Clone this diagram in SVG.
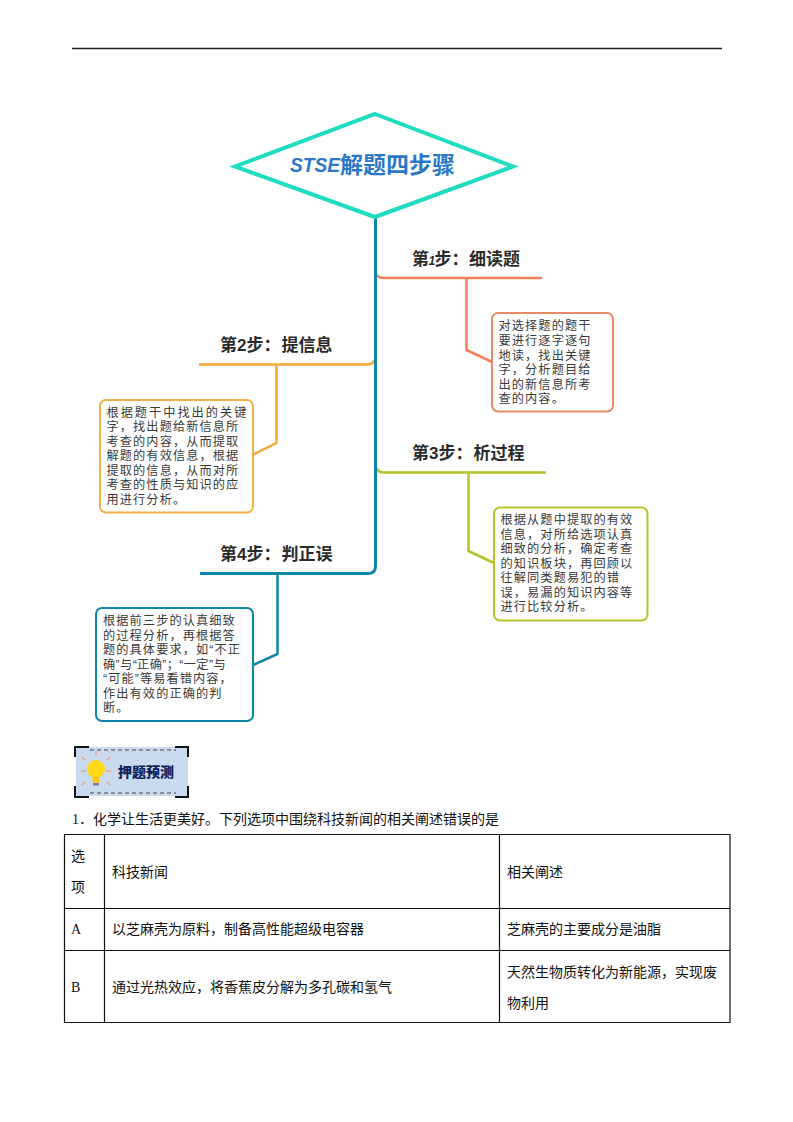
<svg xmlns="http://www.w3.org/2000/svg" width="793" height="1122" viewBox="0 0 793 1122">
<style>
text{font-family:"Liberation Sans","Noto Sans CJK SC",sans-serif}
.h{font-size:17px;font-weight:700;fill:#2b2b2b}
.b{font-size:12.200px;letter-spacing:1.100px;fill:#3a3a3a}
.t{font-family:"Liberation Serif","Noto Sans CJK SC",serif;font-size:14px;fill:#111}
.c{fill:none;stroke-width:2.500;stroke-linejoin:round}
.m{stroke-width:3}
.box{fill:#fff;stroke-width:2}
.grid{fill:none;stroke:#111;stroke-width:1.200}
</style>
<rect width="793" height="1122" fill="#fff"/>
<line x1="72" y1="48.500" x2="722" y2="48.500" stroke="#222" stroke-width="1.400"/>
<g id="connectors">
<path class="c" stroke="#f0805a" d="M376.500 274Q378 278 384 278H542M466.500 278V350L492 362"/>
<path class="c" stroke="#f5a936" d="M374.500 360Q373 364.500 367 364.500H199M276.500 365V443L252 455"/>
<path class="c" stroke="#b5c42a" d="M376.500 468Q378 472.500 384 472.500H546M468.500 473V551L494 563"/>
<path class="c m" stroke="#0e86a8" d="M375.500 217V566Q375.500 573.500 368 573.500H200"/>
<path class="c" stroke="#0e86a8" d="M277.500 574V654L253 665"/>
</g>
<g id="root">
<polygon points="375,114 513,166.500 375,217 235,166.500" fill="#fff" stroke="#1fdcc0" stroke-width="4"/>
<text x="290" y="172" font-size="21" font-weight="700" font-style="italic" fill="#2b78c8" textLength="50" lengthAdjust="spacingAndGlyphs">STSE</text>
<text x="340" y="173" font-size="23" font-weight="700" fill="#2b78c8">解题四步骤</text>
</g>
<g id="step1">
<text class="h" y="265"><tspan x="412">第</tspan><tspan x="428.500" font-size="12" font-style="italic">1</tspan><tspan x="434.500">步：</tspan><tspan x="469">细读题</tspan></text>
<rect class="box" x="492" y="313" width="121" height="98.500" rx="6" stroke="#e88a66"/>
<text class="b"><tspan x="498.500" y="330">对选择题的题干</tspan><tspan x="498.500" y="345">要进行逐字逐句</tspan><tspan x="498.500" y="359.500">地读，找出关键</tspan><tspan x="498.500" y="374">字，分析题目给</tspan><tspan x="498.500" y="388.500">出的新信息所考</tspan><tspan x="498.500" y="403">查的内容。</tspan></text>
</g>
<g id="step2">
<text class="h" y="351"><tspan x="220">第2步：</tspan><tspan x="281.500">提信息</tspan></text>
<rect class="box" x="100" y="400" width="153" height="112.500" rx="6" stroke="#f5b04a"/>
<text class="b"><tspan x="106.500" y="416.500" letter-spacing="2">根据题干中找出的关键</tspan><tspan x="106.500" y="431">字，找出题给新信息所</tspan><tspan x="106.500" y="445.500">考查的内容，从而提取</tspan><tspan x="106.500" y="460">解题的有效信息，根据</tspan><tspan x="106.500" y="474.500">提取的信息，从而对所</tspan><tspan x="106.500" y="489">考查的性质与知识的应</tspan><tspan x="106.500" y="503.500">用进行分析。</tspan></text>
</g>
<g id="step3">
<text class="h" y="459"><tspan x="412">第3步：</tspan><tspan x="473.500">析过程</tspan></text>
<rect class="box" x="494" y="507.500" width="153.500" height="113" rx="6" stroke="#b5c42a"/>
<text class="b"><tspan x="500.500" y="524">根据从题中提取的有效</tspan><tspan x="500.500" y="538.500">信息，对所给选项认真</tspan><tspan x="500.500" y="553">细致的分析，确定考查</tspan><tspan x="500.500" y="567.500">的知识板块，再回顾以</tspan><tspan x="500.500" y="582">往解同类题易犯的错</tspan><tspan x="500.500" y="596.500">误，易漏的知识内容等</tspan><tspan x="500.500" y="611">进行比较分析。</tspan></text>
</g>
<g id="step4">
<text class="h" y="560"><tspan x="220">第4步：</tspan><tspan x="281.500">判正误</tspan></text>
<rect class="box" x="96" y="608" width="157" height="113" rx="6" stroke="#0e86a8"/>
<text class="b"><tspan x="103" y="625">根据前三步的认真细致</tspan><tspan x="103" y="639.500">的过程分析，再根据答</tspan><tspan x="103" y="654">题的具体要求，如“不正</tspan><tspan x="103" y="668.500" letter-spacing="0.400">确”与“正确”；“一定”与</tspan><tspan x="103" y="683">“可能”等易看错内容，</tspan><tspan x="103" y="697.500">作出有效的正确的判</tspan><tspan x="103" y="712">断。</tspan></text>
</g>
<g id="badge">
<rect x="76" y="747" width="112" height="49" fill="#c9d9ee"/>
<path d="M89 747H75V757M175 747H188V757M75 786V797H89M188 786V797H175" fill="none" stroke="#111" stroke-width="2"/>
<path d="M90 750H176M90 793H176" stroke="#445" stroke-width="1" stroke-dasharray="4 3"/>
<path d="M96 756V751M85 760L82 757M107 760L110 757M81 771H86M106 771H111M85 782L82 785M107 782L110 785" stroke="#e8a080" stroke-width="1.300"/>
<circle cx="96" cy="769" r="9" fill="#ffd81a"/>
<path d="M92 777H100L99 783H93Z" fill="#ffc81a"/>
<rect x="93" y="783" width="6" height="2.500" fill="#8a7ab0"/>
<text x="118" y="777" font-size="14" font-weight="900" fill="#0d1f5c">押题预测</text>
</g>
<g id="question">
<text class="t" x="72" y="824">1．化学让生活更美好。下列选项中围绕科技新闻的相关阐述错误的是</text>
<path class="grid" d="M64.500 834.500H730V1022.500H64.500ZM104.500 834.500V1022.500M499.500 834.500V1022.500M64.500 908.500H730M64.500 950.500H730"/>
<text class="t"><tspan x="71" y="861">选</tspan><tspan x="71" y="892">项</tspan><tspan x="112" y="877">科技新闻</tspan><tspan x="507" y="877">相关阐述</tspan><tspan x="71" y="934">A</tspan><tspan x="112" y="934">以芝麻壳为原料，制备高性能超级电容器</tspan><tspan x="507" y="934">芝麻壳的主要成分是油脂</tspan><tspan x="71" y="992">B</tspan><tspan x="112" y="992">通过光热效应，将香蕉皮分解为多孔碳和氢气</tspan><tspan x="507" y="977">天然生物质转化为新能源，实现废</tspan><tspan x="507" y="1008">物利用</tspan></text>
</g>
</svg>
